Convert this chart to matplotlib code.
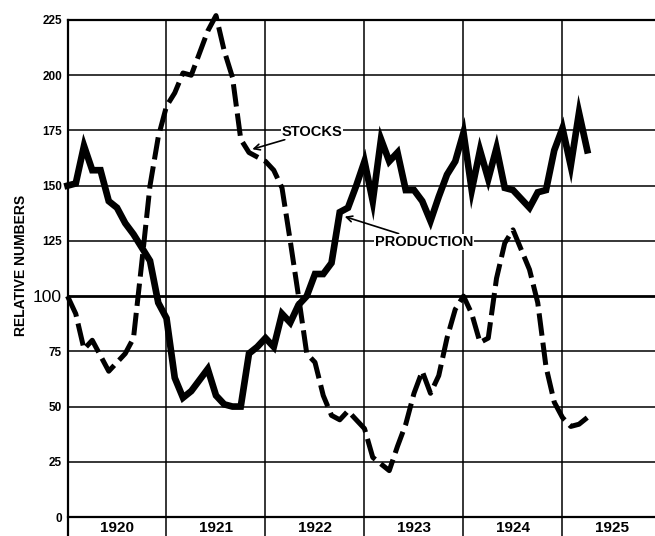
import matplotlib
matplotlib.use("Agg")
import matplotlib.pyplot as plt

# monthly values, Jan 1920 .. Apr 1925 (month 0 = Jan 1920)
production = [150, 151, 168, 157, 157, 143, 140, 133, 128, 122, 116, 97,
              90, 63, 54, 57, 62, 67, 55, 51, 50, 50, 74, 77,
              81, 77, 92, 88, 96, 100, 110, 110, 115, 138, 140, 150,
              161, 143, 171, 161, 165, 148, 148, 143, 134, 145, 155, 161,
              174, 148, 166, 153, 167, 149, 148, 144, 140, 147, 148, 166,
              176, 159, 183, 166]
stocks = [100, 92, 76, 80, 73, 66, 70, 74, 81, 115, 150, 172,
          186, 192, 201, 200, 210, 220, 227, 211, 199, 171, 165, 163,
          161, 157, 149, 125, 100, 74, 70, 55, 46, 44, 48, 44,
          40, 27, 24, 21, 32, 42, 56, 66, 56, 64, 81, 94,
          100, 92, 79, 81, 108, 124, 130, 121, 112, 97, 68, 52,
          45, 41, 42, 45]
months = list(range(len(production)))

years = ["1920", "1921", "1922", "1923", "1924", "1925"]
y_ticks = [0, 25, 50, 75, 100, 125, 150, 175, 200, 225]

plt.rcParams['font.family'] = ['Liberation Sans', 'DejaVu Sans']

fig = plt.figure(figsize=(6.55, 5.36), dpi=100)
ax = fig.add_axes([67.5 / 655, 19 / 536, 1 - 67.5 / 655, 497 / 536])
ax.set_xlim(0, (655 - 67.5) / 8.25)
ax.set_ylim(0, 225)

# grid
for v in y_ticks:
    lw = 2.0 if v == 100 else 1.1
    if v in (0, 225):
        lw = 1.6
    ax.axhline(v, color='black', lw=lw, zorder=1, clip_on=False)
for i in range(len(years)):
    ax.axvline(12 * i, ymin=-0.04, ymax=1, color='black',
               lw=1.6 if i == 0 else 1.1, zorder=1, clip_on=False)

ax.plot(months, production, color='black', lw=4.8, solid_joinstyle='miter',
        zorder=3, clip_on=False)
ax.plot(months, stocks, color='black', lw=3.6, linestyle=(0, (4.5, 1.4)),
        dash_capstyle='butt', zorder=3, clip_on=False)

for s in ax.spines.values():
    s.set_visible(False)
ax.set_xticks([])
ax.set_yticks(y_ticks)
ax.set_yticklabels([str(v) for v in y_ticks])
ax.tick_params(axis='y', length=0, pad=4)
for lab in ax.get_yticklabels():
    if lab.get_text() == "100":
        lab.set_fontsize(12.5)
        lab.set_fontweight('normal')
    else:
        lab.set_fontsize(8.5)
        lab.set_fontweight('bold')

for i, yr in enumerate(years):
    ax.text(12 * i + 6, -0.008, yr, transform=ax.get_xaxis_transform(),
            ha='center', va='top', fontsize=11, fontweight='bold')

fig.text(21 / 655, (536 - 265) / 536, "RELATIVE NUMBERS", rotation=90,
         ha='center', va='center', fontsize=10, fontweight='bold')

box = dict(boxstyle='square,pad=0.05', fc='white', ec='none')
ax.annotate("STOCKS", xy=(22.4, 166.5), xytext=(26.0, 174.5),
            fontsize=10.5, fontweight='bold', ha='left', va='center',
            bbox=box, zorder=4,
            arrowprops=dict(arrowstyle='->', lw=1.2, color='black',
                            shrinkA=1, shrinkB=0))
ax.annotate("PRODUCTION", xy=(33.6, 136), xytext=(37.3, 124.6),
            fontsize=10.5, fontweight='bold', ha='left', va='center',
            bbox=box, zorder=4,
            arrowprops=dict(arrowstyle='->', lw=1.2, color='black',
                            shrinkA=1, shrinkB=0))

plt.savefig("out.png", dpi=100)
plt.close()
